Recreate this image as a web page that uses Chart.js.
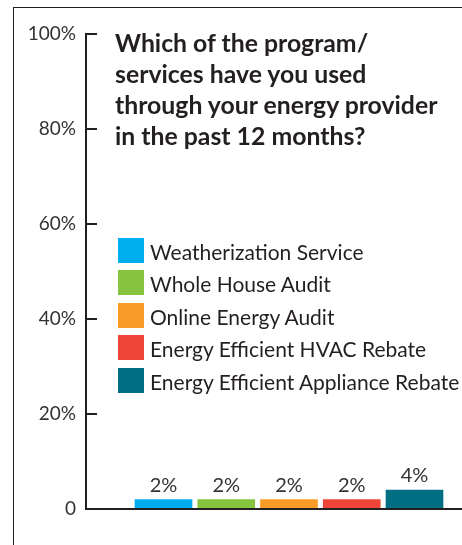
<!DOCTYPE html>
<html>
<head>
<meta charset="utf-8">
<script src="https://cdn.jsdelivr.net/npm/chart.js@4.4.1/dist/chart.umd.min.js"></script>
<style>
  html, body { margin: 0; padding: 0; background: #fff; }
  #wrap { position: relative; width: 462px; height: 545px; overflow: hidden; font-family: Lato, "Open Sans", sans-serif; color: #231f20; }
  #frame { position: absolute; left: 13px; top: 7px; width: 500px; height: 600px; border-top: 1.5px solid #231f20; border-left: 1.5px solid #231f20; }
  #myChart { position: absolute; left: 0; top: 0; }
  #title { position: absolute; left: 115px; top: 27px; font-weight: bold; font-size: 24.8px; line-height: 31px; color: #231f20; }
  #legend { position: absolute; left: 118px; top: 238px; }
  .item { position: absolute; left: 0; height: 25px; white-space: nowrap; }
  .item .box { position: absolute; left: 0; top: 0; width: 26px; height: 25px; }
  .item .txt { position: absolute; left: 32px; top: 1px; font-size: 21px; line-height: 25px; color: #231f20; }
</style>
</head>
<body>
<div id="wrap">
  <div id="frame"></div>
  <canvas id="myChart" width="462" height="545"></canvas>
  <div id="title">Which of the program/<br>services have you used<br>through your energy provider<br>in the past 12 months?</div>
  <div id="legend"></div>
</div>
<script>
// chart data
var services = ["Weatherization Service", "Whole House Audit", "Online Energy Audit", "Energy Efficient HVAC Rebate", "Energy Efficient Appliance Rebate"];
var percentUsed = [2, 2, 2, 2, 4];
var serviceColors = ["#00aeef", "#86c440", "#f89c27", "#ef4438", "#006f83"];
var yTicks = [0, 20, 40, 60, 80, 100];

var ink = "#231f20";

// value labels on top of each bar
var barLabels = {
    id: "barLabels",
    afterDatasetsDraw: function(chart) {
        var ctx = chart.ctx;
        var meta = chart.getDatasetMeta(0);
        ctx.save();
        ctx.font = "20px Lato";
        ctx.fillStyle = "#333";
        ctx.textAlign = "center";
        ctx.textBaseline = "alphabetic";
        meta.data.forEach(function(bar, i) {
            ctx.fillText(percentUsed[i] + "%", bar.x, bar.y - 8);
        });
        ctx.restore();
    }
};

function buildLegend() {
    var box = document.getElementById("legend");
    for (var i = 0; i < services.length; i++) {
        var row = document.createElement("div");
        row.className = "item";
        row.style.top = (i * 32.4) + "px";
        row.innerHTML = '<div class="box" style="background:' + serviceColors[i] + '"></div><span class="txt">' + services[i] + '</span>';
        box.appendChild(row);
    }
}

function charting() {
    var ctx = document.getElementById("myChart");
    var points = percentUsed.map(function(v, i) { return { x: i + 1, y: v }; });
    new Chart(ctx, {
        type: "bar",
        data: {
            datasets: [{
                label: "Used",
                data: points,
                backgroundColor: serviceColors,
                borderWidth: 0,
                barThickness: 57
            }]
        },
        plugins: [barLabels],
        options: {
            responsive: false,
            animation: false,
            events: [],
            layout: { padding: { top: 34, bottom: 36, left: 0, right: 0 } },
            plugins: { legend: { display: false }, tooltip: { enabled: false } },
            scales: {
                x: {
                    type: "linear",
                    offset: false,
                    min: -0.235,
                    max: 5.757,
                    grid: { display: false, offset: false, drawTicks: false },
                    ticks: { display: false },
                    border: { display: true, color: ink, width: 2, z: 1 }
                },
                y: {
                    min: 0,
                    max: 100,
                    afterBuildTicks: function(scale) {
                        scale.ticks = yTicks.map(function(v) { return { value: v }; });
                    },
                    afterFit: function(scale) { scale.width = 86; },
                    grid: { drawOnChartArea: false, drawTicks: true, tickLength: -11, color: ink, lineWidth: 2 },
                    border: { display: true, color: ink, width: 2, z: 1 },
                    ticks: {
                        padding: 21,
                        color: "#333",
                        font: { family: "Lato", size: 19 },
                        callback: function(v) { return v === 0 ? "0" : v + "%"; }
                    }
                }
            }
        }
    });
}

buildLegend();
charting();
</script>
</body>
</html>
